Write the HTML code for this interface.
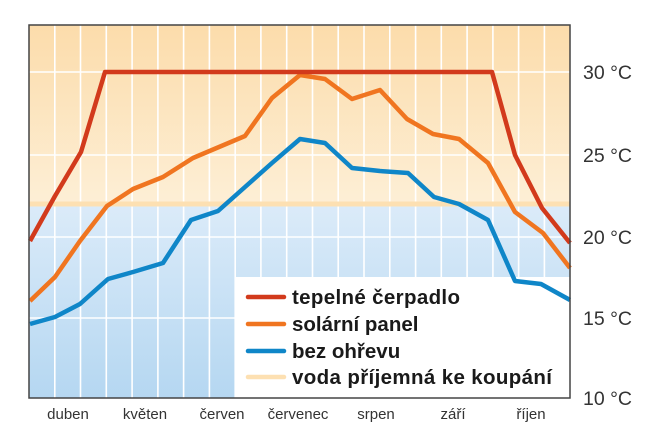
<!DOCTYPE html>
<html><head><meta charset="utf-8"><style>
body{margin:0;background:#fff}
svg{display:block}
text{font-family:"Liberation Sans",sans-serif}
</style></head><body>
<svg width="660" height="441" viewBox="0 0 660 441">
<defs>
<linearGradient id="go" x1="0" y1="0" x2="0" y2="1"><stop offset="0" stop-color="#fcdcab"/><stop offset="1" stop-color="#fdefd6"/></linearGradient>
<linearGradient id="gb" x1="0" y1="0" x2="0" y2="1"><stop offset="0" stop-color="#dbebf9"/><stop offset="1" stop-color="#b5d7f1"/></linearGradient>
</defs>
<rect x="29" y="25" width="541" height="180" fill="url(#go)"/>
<rect x="29" y="205" width="541" height="193" fill="url(#gb)"/>
<g stroke="#fff" stroke-width="1.6">
<path d="M54.8 25V398M80.5 25V398M106.3 25V398M132.1 25V398M157.9 25V398M183.6 25V398M209.4 25V398M235.2 25V398M260.9 25V398M286.7 25V398M312.5 25V398M338.2 25V398M364 25V398M389.8 25V398M415.6 25V398M441.3 25V398M467.1 25V398M492.9 25V398M518.6 25V398M544.4 25V398"/>
<path d="M29 72H570M29 155H570M29 237H570M29 318H570"/>
</g>
<line x1="29" y1="204" x2="570" y2="204" stroke="#fde0b2" stroke-width="5"/>
<rect x="235" y="277" width="335" height="121" fill="#fff"/>
<g fill="none" stroke-width="4.5" stroke-linejoin="round">
<polyline stroke="#f07520" points="30,301 55,277 80,241 107,206 133,189 163,177 193,158 219,147 245,136 272,98 300,75 325,79 352,99 380,90 407,119 433,134 459,139 488,163 515,212 543,233 570,268"/>
<polyline stroke="#0f86c8" points="30,324 55,317 80,304 108,279 133,272 163,263 191,220 218,211 245,187 272,163 300,139 325,143 352,168 380,171 408,173 434,197 459,204 488,220 515,281 541,284 570,300"/>
<polyline stroke="#d23a1c" points="30,241 55,196 81,152 105,72 492,72 515,155 542,208 570,243"/>
</g>
<rect x="29" y="25" width="541" height="373" fill="none" stroke="#444" stroke-width="1.5"/>
<g stroke-width="4.5" stroke-linecap="round">
<line x1="248" y1="297" x2="284" y2="297" stroke="#d23a1c"/>
<line x1="248" y1="324" x2="284" y2="324" stroke="#f07520"/>
<line x1="248" y1="351" x2="284" y2="351" stroke="#0f86c8"/>
<line x1="248" y1="377" x2="284" y2="377" stroke="#fde0b2"/>
</g>
<g font-size="20.5" font-weight="bold" fill="#1a1a1a">
<text x="292" y="304" textLength="168">tepelné čerpadlo</text>
<text x="292" y="331">solární panel</text>
<text x="292" y="358">bez ohřevu</text>
<text x="292" y="384" textLength="260">voda příjemná ke koupání</text>
</g>
<g font-size="15" fill="#333" text-anchor="middle">
<text x="68" y="419">duben</text>
<text x="145" y="419">květen</text>
<text x="222" y="419">červen</text>
<text x="298" y="419">červenec</text>
<text x="376" y="419">srpen</text>
<text x="453" y="419">září</text>
<text x="531" y="419">říjen</text>
</g>
<g font-size="19.5" fill="#333">
<text x="583" y="79">30 °C</text>
<text x="583" y="162">25 °C</text>
<text x="583" y="244">20 °C</text>
<text x="583" y="325">15 °C</text>
<text x="583" y="405">10 °C</text>
</g>
</svg>
</body></html>
